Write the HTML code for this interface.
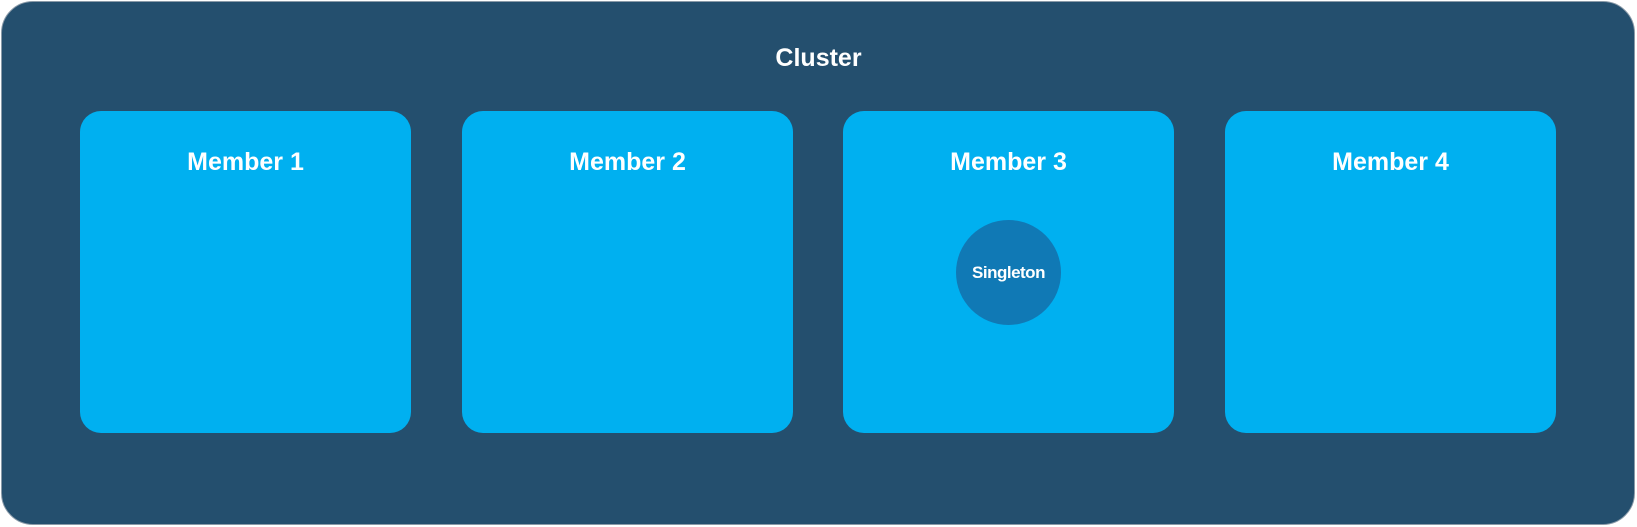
<!DOCTYPE html>
<html><head><style>
body{margin:0;width:1637px;height:527px;background:#fff;position:relative;overflow:hidden;font-family:"Liberation Sans",sans-serif;font-weight:bold;color:#fff}
.outer{position:absolute;left:1px;top:1px;width:1634px;height:524px;background:#244f6e;border-radius:32px;border:1px solid #8a9aa8;box-sizing:border-box}
.t{position:absolute;width:100%;text-align:center;top:44px;font-size:25px;left:0}
.m{position:absolute;top:111px;width:331px;height:322px;background:#00b0f0;border-radius:21px}
.m span{position:absolute;top:36px;width:100%;text-align:center;font-size:25px;line-height:30px}
.c{position:absolute;left:956px;top:220px;width:105px;height:105px;border-radius:50%;background:#1079b5;font-size:17px;line-height:105px;text-align:center;letter-spacing:-0.5px}
</style></head><body>
<div class="outer"></div>
<div class="t">Cluster</div>
<div class="m" style="left:80px"><span>Member 1</span></div>
<div class="m" style="left:462px"><span>Member 2</span></div>
<div class="m" style="left:843px"><span>Member 3</span></div>
<div class="m" style="left:1225px"><span>Member 4</span></div>
<div class="c">Singleton</div>
</body></html>
